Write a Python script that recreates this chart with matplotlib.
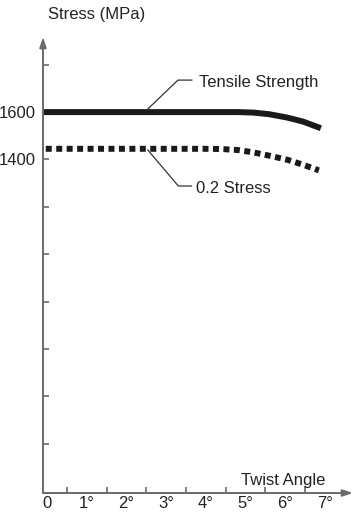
import matplotlib
matplotlib.use("Agg")
import matplotlib.pyplot as plt
from matplotlib.ticker import FixedLocator

plt.rcParams['font.family'] = ['Liberation Sans', 'DejaVu Sans']

# Tensile strength vs twist angle
angle_ts = [-0.1, 1, 2, 3, 4, 4.5, 4.8, 5.2, 5.6, 6.05, 6.45, 6.9]
tensile = [1600, 1600, 1600, 1600, 1600, 1600, 1600, 1598, 1591, 1577, 1560, 1532]

# 0.2% proof stress vs twist angle
angle_ps = [-0.03, 1, 2, 3, 4, 4.4, 4.8, 5.2, 5.6, 6.05, 6.45, 6.85]
proof = [1445, 1445, 1445, 1445, 1445, 1444, 1440, 1430, 1416, 1399, 1378, 1354]

x_labels = ["0", "1°", "2°", "3°", "4°", "5°", "6°", "7°"]
x_major = [0, 1, 2, 3, 4, 5, 6, 7]
x_minor = [0.5, 1, 1.5, 2, 2.5, 3, 3.5, 4, 4.5, 5, 5.5, 6, 6.5, 7]
y_ticks = [200, 400, 600, 800, 1000, 1200, 1400, 1600, 1800]
y_labels = {1400: "1400", 1600: "1600"}

W, H = 356, 512
fig = plt.figure(figsize=(W / 100, H / 100), dpi=100)
ax = fig.add_axes([43 / W, 19 / H, (353 - 43) / W, (475 - 19) / H])
ax.set_xlim(-0.1, 7.71)
ax.set_ylim(-8, 1917)

axis_col = "#6a6a6a"
text_col = "#222222"
fs = 12

ax.plot(angle_ts, tensile, color="#1a1a1a", lw=4.3, solid_capstyle="butt")
ax.plot(angle_ps, proof, color="#1a1a1a", lw=4.3, linestyle=(0, (1.0, 0.75)),
        dash_capstyle="butt")

# leader lines and curve labels
ax.plot([2.54, 3.30, 3.65], [1613, 1735, 1735], color="#333333", lw=0.9)
ax.text(3.83, 1727, "Tensile Strength", fontsize=fs, color=text_col, va="center", ha="left")
ax.plot([2.54, 3.31, 3.64], [1440, 1288, 1288], color="#333333", lw=0.9)
ax.text(3.75, 1279, "0.2 Stress", fontsize=fs, color=text_col, va="center", ha="left")

# axes with arrowheads
for s in ax.spines.values():
    s.set_visible(False)
ax.annotate("", xy=(0, 1), xytext=(0, 0), xycoords="axes fraction",
            arrowprops=dict(arrowstyle="-|>,head_length=0.6,head_width=0.2",
                            color=axis_col, lw=1.4, shrinkA=0, shrinkB=0))
ax.annotate("", xy=(1, 0), xytext=(0, 0), xycoords="axes fraction",
            arrowprops=dict(arrowstyle="-|>,head_length=0.6,head_width=0.2",
                            color=axis_col, lw=1.4, shrinkA=0, shrinkB=0))

ax.xaxis.set_major_locator(FixedLocator(x_major))
ax.set_xticklabels(x_labels)
ax.xaxis.set_minor_locator(FixedLocator(x_minor))
ax.tick_params(axis="x", which="major", length=0, pad=2.5, labelsize=fs, labelcolor=text_col)
ax.tick_params(axis="x", which="minor", direction="in", length=4, width=1.2, color=axis_col)

ax.set_yticks(y_ticks)
ax.set_yticklabels([y_labels.get(v, "") for v in y_ticks])
ax.tick_params(axis="y", direction="in", length=4, width=1.2, color=axis_col,
               pad=5, labelsize=fs, labelcolor=text_col)

fig.text(48 / W, 1 - 15 / H, "Stress (MPa)", fontsize=fs, color=text_col, va="center", ha="left")
fig.text(241 / W, 1 - 480 / H, "Twist Angle", fontsize=fs, color=text_col, va="center", ha="left")

fig.savefig("out.png", dpi=100)
